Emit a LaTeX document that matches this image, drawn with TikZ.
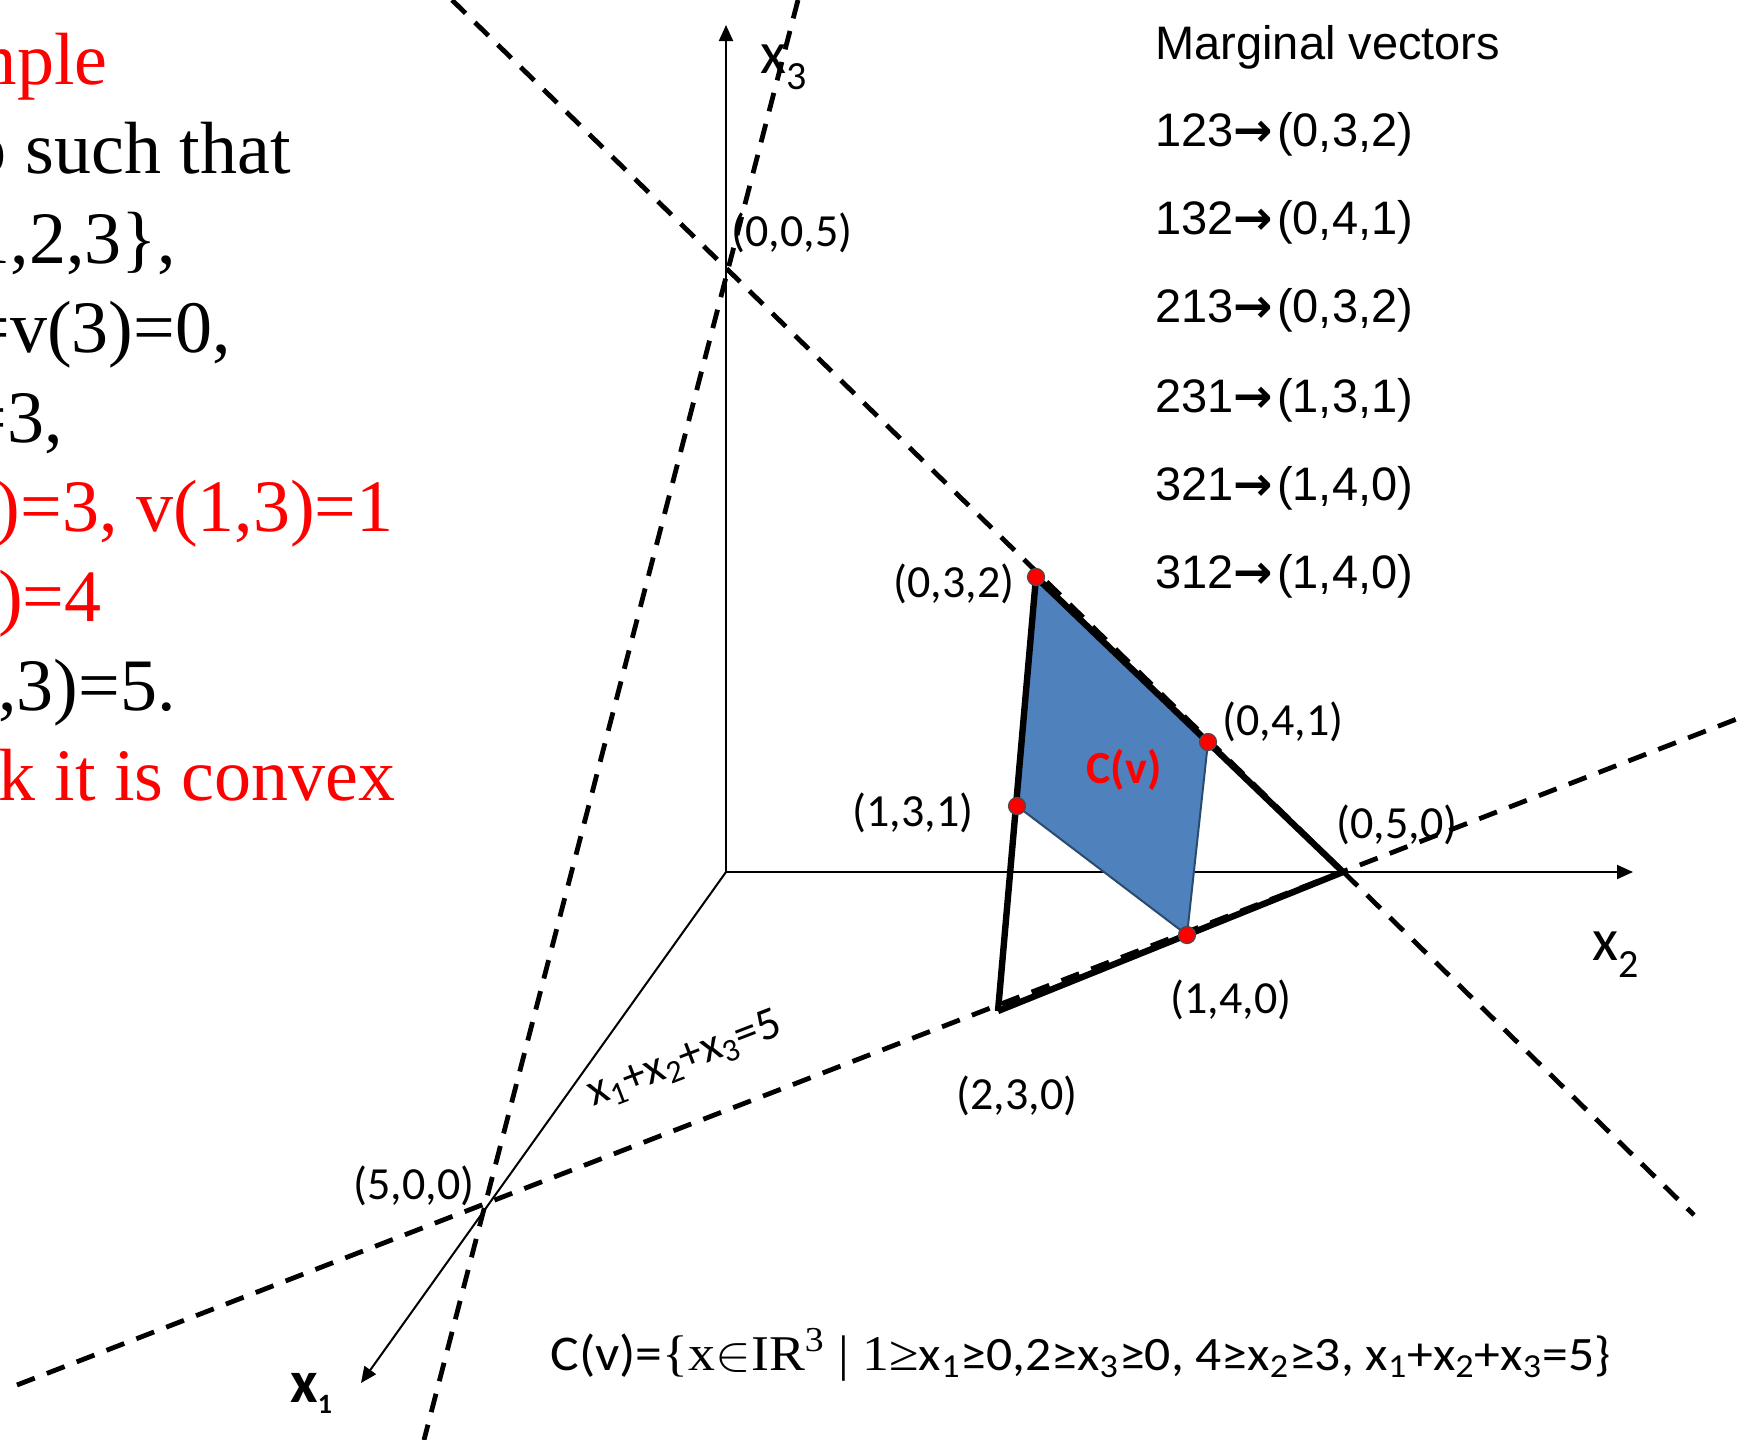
\documentclass[tikz,border=0pt]{standalone}
\usepackage{fontspec}
\usepackage{graphicx}
\setmainfont{Liberation Serif}
\newfontfamily\carl{Carlito}
\newfontfamily\arialf{Liberation Sans}
\newfontfamily\dvs{DejaVu Sans}
\usetikzlibrary{arrows.meta}
\definecolor{coreblue}{HTML}{4F81BD}
\definecolor{coreedge}{HTML}{2A4A6E}
\begin{document}
\begin{tikzpicture}[x=0.5pt,y=-0.5pt,
  dline/.style={line width=2.4pt, dash pattern=on 9.5pt off 6.5pt},
  axisline/.style={line width=1pt, -{Triangle[width=7pt,length=8pt]}},
  thickedge/.style={line width=3.2pt},
  vdot/.style={circle, fill=red, draw=black!70, line width=0.6pt, inner sep=0pt, minimum size=8.5pt},
  lbl/.style={font=\carl\fontsize{23pt}{27pt}\selectfont, inner sep=0pt},
  axlbl/.style={anchor=base west, inner sep=0pt, font=\carl\fontsize{30pt}{34pt}\selectfont},
  lefttxt/.style={font=\fontsize{37pt}{44pt}\selectfont, anchor=base east, inner sep=0pt},
  mv/.style={font=\arialf\fontsize{23.5pt}{28pt}\selectfont, anchor=base west, inner sep=0pt},
]
\useasboundingbox (0,0) rectangle (1742,1440);
\clip (0,0) rectangle (1742,1440);

% points
\coordinate (O) at (726,872);
\coordinate (X3) at (726,25);
\coordinate (X2) at (1633,872);
\coordinate (X1) at (361,1383);
\coordinate (P005) at (727,268);
\coordinate (P500) at (487,1203);
\coordinate (P050) at (1343,872);
\coordinate (P032) at (1036,577);
\coordinate (P041) at (1208,742);
\coordinate (P131) at (1017,806);
\coordinate (P140) at (1187,935);
\coordinate (P230) at (998,1011);
\coordinate (L1a) at (798,0);
\coordinate (L1b) at (424,1440);
\coordinate (L2a) at (452,0);
\coordinate (L2b) at (1694,1215);
\coordinate (L3a) at (17,1385);
\coordinate (L3b) at (1742,717);

% dashed traces
\draw[dline] (L1a) -- (L1b);
\draw[dline] (L2a) -- (L2b);
\draw[dline] (L3a) -- (L3b);

% axes
\draw[axisline] (O) -- (X3);
\draw[axisline] (O) -- (X2);
\draw[axisline] (O) -- (X1);

% core
\filldraw[fill=coreblue, draw=coreedge, line width=1pt] (P032) -- (P041) -- (P140) -- (P131) -- cycle;
\draw[thickedge] (P032) -- (P230);
\draw[thickedge] (P032) -- (P050);
\draw[thickedge] (P230) -- (P050);

\node[vdot] (d032) at (P032) {};
\node[vdot] (d041) at (P041) {};
\node[vdot] (d131) at (P131) {};
\node[vdot] (d140) at (P140) {};

% point labels
\node[lbl] (l032) at (954,584) {(0,3,2)};
\node[lbl] (l041) at (1283,722) {(0,4,1)};
\node[lbl] (l131) at (913,813) {(1,3,1)};
\node[lbl] (l140) at (1231,1000) {(1,4,0)};
\node[lbl] (l230) at (1017,1096) {(2,3,0)};
\node[lbl] (l050) at (1397,825) {(0,5,0)};
\node[lbl] (l500) at (414,1186) {(5,0,0)};
\node[lbl] (l005) at (792,233) {(0,0,5)};
\node[font=\carl\bfseries\fontsize{23pt}{27pt}\selectfont, text=red, inner sep=0pt] (cvl) at (1124,770) {C(v)};

% axis labels
\node[axlbl] (x3l) at (760,73) {x\raisebox{-8.5pt}{\fontsize{20pt}{20pt}\selectfont 3}};
\node[axlbl] (x2l) at (1592,960) {x\raisebox{-8.5pt}{\fontsize{20pt}{20pt}\selectfont 2}};
\node[axlbl, font=\carl\bfseries\fontsize{30pt}{34pt}\selectfont] (x1l) at (290,1402) {x\raisebox{-5.5pt}{\fontsize{14pt}{14pt}\selectfont 1}};

% plane label
\node[lbl, rotate=21] (plane) at (685,1060) {x\textsubscript{1}+x\textsubscript{2}+x\textsubscript{3}=5};

% marginal vectors
\node[mv] (mvh) at (1155,60) {Marginal vectors};
\node[mv] (mv1) at (1155,146) {123{\dvs\bfseries →}\kern2pt(0,3,2)};
\node[mv] (mv2) at (1155,234) {132{\dvs\bfseries →}\kern2pt(0,4,1)};
\node[mv] (mv3) at (1155,322) {213{\dvs\bfseries →}\kern2pt(0,3,2)};
\node[mv] (mv4) at (1155,412) {231{\dvs\bfseries →}\kern2pt(1,3,1)};
\node[mv] (mv5) at (1155,500) {321{\dvs\bfseries →}\kern2pt(1,4,0)};
\node[mv] (mv6) at (1155,588) {312{\dvs\bfseries →}\kern2pt(1,4,0)};

% left text (cut at the left edge)
\node[lefttxt, text=red] (t1) at (108,84) {mple};
\node[lefttxt] (t2) at (291,173) {o such that};
\node[lefttxt] (t3) at (176,263) {1,2,3\},};
\node[lefttxt] (t4) at (231,352) {=v(3)=0,};
\node[lefttxt] (t5) at (63,442) {=3,};
\node[lefttxt, text=red] (t6) at (394,531) {)=3, v(1,3)=1};
\node[lefttxt, text=red] (t7) at (102,621) {)=4};
\node[lefttxt] (t8) at (176,710) {,3)=5.};
\node[lefttxt, text=red] (t9) at (396,800) {k it is convex};

% core formula
\node[anchor=base west, inner sep=0pt] (formula) at (550,1370) {\resizebox{530pt}{\height}{\carl\fontsize{25pt}{30pt}\selectfont C(v)=\rmfamily\fontsize{25pt}{29pt}\selectfont\{x$\in$IR\textsuperscript{3} | 1≥\carl\fontsize{24pt}{28pt}\selectfont x\textsubscript{1}≥0,2≥x\textsubscript{3}≥0, 4≥x\textsubscript{2}≥3, x\textsubscript{1}+x\textsubscript{2}+x\textsubscript{3}=5\}}};
\end{tikzpicture}
\end{document}
